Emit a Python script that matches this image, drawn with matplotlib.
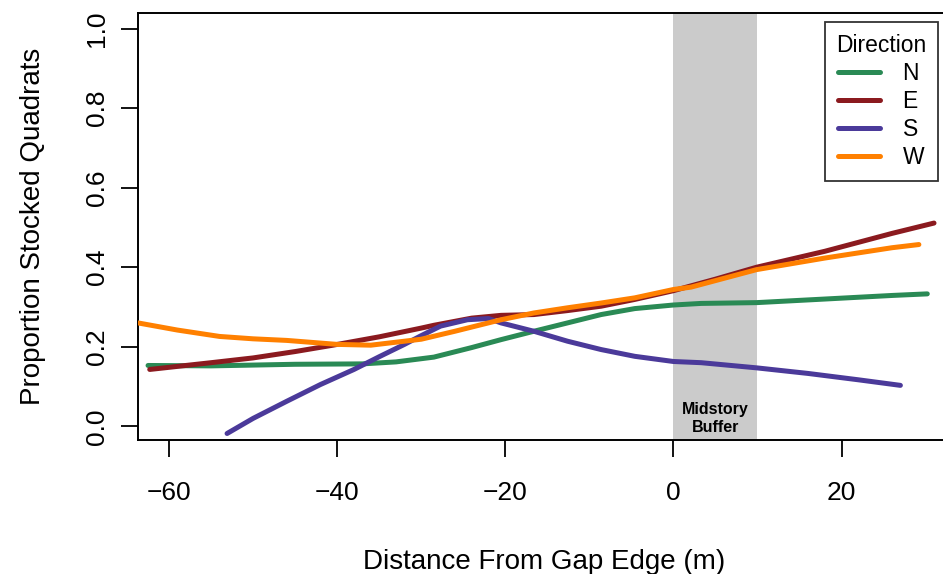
import numpy as np
import matplotlib
matplotlib.use("Agg")
import matplotlib.pyplot as plt

plt.rcParams['font.family'] = ['Liberation Sans', 'DejaVu Sans']

# curves (distance from gap edge in m, proportion stocked)
n_x = [-62.5, -55, -45, -37, -33, -28.5, -24, -20.5, -16.6, -12.6, -8.6, -4.6, 0, 3.3, 9.9, 18, 26, 30.2]
n_y = [0.153, 0.152, 0.156, 0.157, 0.162, 0.174, 0.198, 0.218, 0.239, 0.260, 0.281, 0.296, 0.305, 0.309, 0.311, 0.320, 0.329, 0.333]

e_x = [-62.3, -55, -50, -45, -40.5, -35, -30, -28.5, -24, -20.5, -16.6, -12.6, -8.6, -4.6, 0, 5, 9.9, 18, 26, 31]
e_y = [0.143, 0.160, 0.172, 0.188, 0.204, 0.225, 0.247, 0.254, 0.272, 0.279, 0.281, 0.291, 0.302, 0.319, 0.341, 0.370, 0.400, 0.440, 0.485, 0.511]

s_x = [-53.1, -50, -46, -42, -38, -35, -32, -30, -27.7, -24.5, -22, -20.5, -16.6, -12.6, -8.6, -4.6, 0, 3.3, 9.9, 16, 22, 27]
s_y = [-0.018, 0.020, 0.063, 0.105, 0.143, 0.175, 0.206, 0.228, 0.252, 0.268, 0.271, 0.260, 0.239, 0.214, 0.193, 0.176, 0.163, 0.160, 0.147, 0.133, 0.117, 0.103]

w_x = [-63.7, -59, -54, -50, -46, -40, -36, -30, -26, -20.5, -16.6, -12.6, -8.6, -4.6, 0, 2.1, 9.9, 18, 26, 29.2]
w_y = [0.260, 0.242, 0.226, 0.220, 0.216, 0.206, 0.204, 0.219, 0.239, 0.268, 0.285, 0.298, 0.310, 0.323, 0.344, 0.350, 0.394, 0.423, 0.449, 0.457]

labels = ['N', 'E', 'S', 'W']
colors = ['#2a8a55', '#8b1a1f', '#4b3a9a', '#ff8000']
series = [(n_x, n_y), (e_x, e_y), (s_x, s_y), (w_x, w_y)]

buffer_lo, buffer_hi = 0, 10

fig = plt.figure(figsize=(9.43, 5.74), dpi=100)
ax = fig.add_axes([0.1463, 0.233, 0.862, 0.745])

ax.axvspan(buffer_lo, buffer_hi, color='#cbcbcb', lw=0, zorder=0)
ax.text((buffer_lo + buffer_hi) / 2, 0.02, 'Midstory\nBuffer', ha='center', va='center',
        fontsize=11.5, fontweight='bold', linespacing=1.25, zorder=1)

for (xs, ys), lab, col in zip(series, labels, colors):
    ax.plot(xs, ys, color=col, lw=3.6, label=lab, solid_capstyle='round', zorder=3)

ax.set_xlim(-63.7, 33.0)
ax.set_ylim(-0.035, 1.04)
ax.set_xticks([-60, -40, -20, 0, 20])
ax.set_xticklabels(['\u221260', '\u221240', '\u221220', '0', '20'])
ax.set_yticks([0, 0.2, 0.4, 0.6, 0.8, 1.0])
ax.set_yticklabels(['0.0', '0.2', '0.4', '0.6', '0.8', '1.0'], rotation=90, va='center')

ax.tick_params(axis='x', direction='out', length=12, width=1.3, labelsize=19, pad=17)
ax.tick_params(axis='y', direction='out', length=12, width=1.3, labelsize=19, pad=9)
for sp in ax.spines.values():
    sp.set_linewidth(1.4)

ax.set_xlabel('Distance From Gap Edge (m)', fontsize=20, labelpad=32)
ax.set_ylabel('Proportion Stocked Quadrats', fontsize=20, labelpad=28)

leg = ax.legend(title='Direction', loc='upper right', bbox_to_anchor=(0.984, 0.977),
                fontsize=16.5, title_fontsize=16.5, frameon=True, fancybox=False,
                handlelength=1.8, handletextpad=1.0, labelspacing=0.22,
                borderpad=0.5, borderaxespad=0)
leg.get_frame().set_edgecolor('black')
leg.get_frame().set_linewidth(1.3)

fig.savefig('out.png', dpi=100)
